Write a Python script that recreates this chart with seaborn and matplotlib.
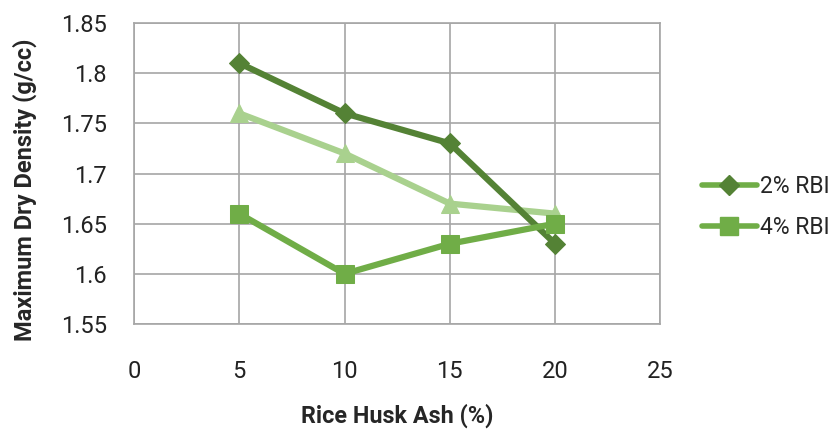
import pandas as pd
import matplotlib.pyplot as plt
import seaborn as sns
from matplotlib.lines import Line2D

# data
ash = [5, 10, 15, 20]
rbi_2 = [1.81, 1.76, 1.73, 1.63]
rbi_4 = [1.66, 1.60, 1.63, 1.65]
rbi_x = [1.76, 1.72, 1.67, 1.66]

colors = {'2% RBI': '#548235', '4% RBI': '#70AD47', 'other': '#A9D18E'}
markers = {'2% RBI': 'D', '4% RBI': 's', 'other': '^'}
msizes = {'2% RBI': 10.5, '4% RBI': 13, 'other': 12.5}

df = pd.DataFrame({
    'ash': ash * 3,
    'mdd': rbi_2 + rbi_4 + rbi_x,
    'series': ['2% RBI'] * 4 + ['4% RBI'] * 4 + ['other'] * 4,
})

sns.set_style('white')
plt.rcParams['font.family'] = ['Roboto', 'DejaVu Sans']

fig = plt.figure(figsize=(8.37, 4.30), dpi=100)
ax = fig.add_axes([0.160, 0.2465, 0.629, 0.700])

# light series drawn first (behind)
for name, z in [('other', 2), ('2% RBI', 3), ('4% RBI', 4)]:
    sub = df[df['series'] == name]
    sns.lineplot(data=sub, x='ash', y='mdd', color=colors[name], marker=markers[name],
                 markersize=msizes[name], markeredgecolor=colors[name],
                 linewidth=4.5, ax=ax, zorder=z, legend=False)

ax.set_xlim(0, 25)
ax.set_ylim(1.55, 1.85)
ax.set_xticks([0, 5, 10, 15, 20, 25])
ax.set_yticks([1.55, 1.6, 1.65, 1.7, 1.75, 1.8, 1.85])
ax.set_yticklabels(['1.55', '1.6', '1.65', '1.7', '1.75', '1.8', '1.85'])
ax.grid(True, color='#a6a6a6', linewidth=1.2)
ax.set_axisbelow(True)
for s in ax.spines.values():
    s.set_color('#a6a6a6')
    s.set_linewidth(1.2)
ax.tick_params(axis='both', labelsize=17, length=0, colors='#222222')
ax.tick_params(axis='y', pad=19.5)
ax.tick_params(axis='x', pad=26)

ax.set_xlabel('Rice Husk Ash (%)', fontsize=16.8, fontweight='bold')
ax.set_ylabel('Maximum Dry Density (g/cc)', fontsize=17, fontweight='bold')
ax.xaxis.set_label_coords(0.5, -0.263)
ax.yaxis.set_label_coords(-0.184, 0.445)

handles = [
    Line2D([0], [0], color=colors['4% RBI'], linewidth=4, marker='D', markersize=10,
           markerfacecolor=colors['2% RBI'], markeredgecolor=colors['2% RBI']),
    Line2D([0], [0], color=colors['4% RBI'], linewidth=4, marker='s', markersize=12.5,
           markerfacecolor=colors['4% RBI'], markeredgecolor=colors['4% RBI']),
]
fig.legend(handles, ['2% RBI', '4% RBI'], loc='center left', bbox_to_anchor=(0.814, 0.519),
           frameon=False, fontsize=16.5, handlelength=2.4, labelspacing=0.8, handletextpad=0.13)

fig.savefig('out.png', dpi=100)
